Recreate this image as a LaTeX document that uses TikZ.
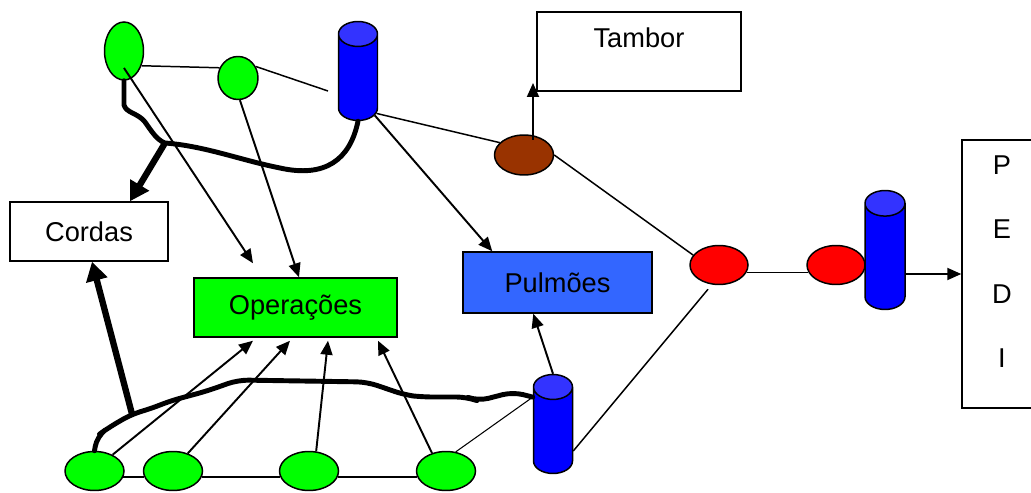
\documentclass[tikz,border=0pt]{standalone}
\usepackage{fontspec}
\setmainfont{Liberation Sans}
\usetikzlibrary{arrows.meta,positioning,calc,shapes.geometric}
\definecolor{opgreen}{RGB}{0,255,0}
\definecolor{tankblue}{RGB}{0,0,255}
\definecolor{tanktop}{RGB}{51,51,255}
\definecolor{pulmblue}{RGB}{51,102,255}
\definecolor{drumbrown}{RGB}{153,51,0}
\definecolor{bufred}{RGB}{255,0,0}

\begin{document}
\begin{tikzpicture}[x=0.02cm,y=-0.02cm,
    every node/.style={font=\fontsize{15.5}{18}\selectfont,align=center,inner sep=0pt},
    greenbuf/.style={ellipse,draw,line width=0.85pt,fill=opgreen},
    redbuf/.style={ellipse,draw,line width=0.85pt,fill=bufred,minimum width=1.16cm,minimum height=0.78cm},
    tank/.style={cylinder,shape border rotate=90,aspect=0.64,inner sep=0.39cm,anchor=shape center,draw,line width=0.85pt,cylinder uses custom fill,cylinder body fill=tankblue,cylinder end fill=tanktop},
    box/.style={rectangle,draw,line width=0.85pt},
    conn/.style={line width=0.85pt},
    flow/.style={line width=1.1pt,-{Triangle[length=0.28cm,width=0.24cm]}},
    cord/.style={line width=2.8pt,line join=round,line cap=round},
    cordflow/.style={line width=3.6pt,-{Triangle[length=0.38cm,width=0.42cm]}}]
    \useasboundingbox (0,0) rectangle (1031,493);

    % top row
    \node[greenbuf,minimum width=0.78cm,minimum height=1.16cm] (g1) at (124,51) {};
    \node[greenbuf,minimum width=0.80cm,minimum height=0.86cm] (g2) at (238,78) {};
    \node[tank,minimum width=0.78cm,minimum height=1.98cm] (c1) at (358,71) {};
    \node[box,minimum width=4.08cm,text height=0.72cm,text depth=0.86cm] (tambor) at (639,51.5) {Tambor};
    \node[ellipse,draw,line width=0.85pt,fill=drumbrown,minimum width=1.18cm,minimum height=0.8cm] (drum) at (524,155) {};

    % middle
    \node[box,minimum width=3.16cm,minimum height=1.18cm] (cordas) at (89,231.5) {Cordas};
    \node[box,fill=opgreen,minimum width=4.06cm,minimum height=1.18cm] (oper) at (295.5,307.5) {Operações};
    \node[box,fill=pulmblue,minimum width=3.78cm,minimum height=1.22cm] (pulm) at (557.5,282.5) {Pulmões};
    \node[redbuf] (r1) at (719,265) {};
    \node[redbuf] (r2) at (836,265) {};
    \node[tank,inner sep=0.4cm,minimum width=0.80cm,minimum height=2.38cm] (c3) at (885,250) {};
    \node[box,minimum width=1.6cm,minimum height=5.36cm,font=\fontsize{15.5}{36.6}\selectfont,text depth=0.5cm] (pedi) at (1002,274) {P\\E\\D\\I};

    % bottom row
    \node[tank,minimum width=0.78cm,minimum height=1.98cm] (c2) at (553,424) {};
    \foreach \n/\x in {g3/94.5,g4/173,g5/309,g6/446}
      \node[greenbuf,minimum width=1.18cm,minimum height=0.78cm] (\n) at (\x,471) {};

    \coordinate (gapL) at (328,91);
    \coordinate (tamborOut) at (533,140);
    \coordinate (tamborIn) at (533,83);
    \coordinate (jTop) at (165,143);
    \coordinate (jBot) at (132,414);

    % thin links
    \draw[conn] (g1.-40) -- (g2.151);
    \draw[conn] (g2.33) -- (gapL);
    \draw[conn] (c1.-58) -- (drum.153);
    \draw[conn] (drum.east) -- (r1.159);
    \draw[conn,shorten <=0.12cm] (r1.-110) -- (c2.-35);
    \draw[conn] (r1.-15) -- (r2.195);
    \draw[line width=0.6pt] (g6.63) -- (c2.117);
    \foreach \a/\b in {g3/g4,g4/g5,g5/g6}{\draw[conn] (\a.-12) -- (\b.192);}

    % arrows
    \draw[flow] (tamborOut) -- (tamborIn);
    \draw[flow] (c1.-62) -- ([xshift=0.6cm]pulm.north west);
    \draw[flow] (c2.north) -- ([xshift=1.42cm]pulm.south west);
    \draw[flow] (pedi.west -| c3.east) -- (pedi.west);
    \draw[flow] ([yshift=-0.34cm]g1.center) -- ([xshift=-0.85cm,yshift=0.28cm]oper.north);
    \draw[flow] (g2.-85) -- ([xshift=0.07cm]oper.north);
    \foreach \n/\a/\dx in {g3/42/-0.85,g4/50/-0.11,g5/70/0.65,g6/128/1.65}
      \draw[flow] (\n.\a) -- ([xshift=\dx cm,yshift=-0.06cm]oper.south);

    % cords
    \draw[cord] (g1.south) -- (124,105) .. controls (126,113) and (138,113) .. (145,122)
      .. controls (152,132) and (157,140) .. (jTop) .. controls (205,146) and (240,160) .. (280,168)
      .. controls (325,178) and (350,160) .. (c1.south);
    \draw[cord,rounded corners=6pt] (g3.north) -- (97,436) -- (108,428) -- (jBot) -- (150,409) -- (170,401)
      -- (207,391) -- (238,380) -- (367,382) -- (405,395) -- (422,397) -- (467,397) -- (478,401)
      -- (513,392) -- (c2.117);
    \draw[cordflow] (jTop) -- ([xshift=0.82cm]cordas.north);
    \draw[cordflow] (jBot) -- ([xshift=0.06cm]cordas.south);
  \end{tikzpicture}
\end{document}
